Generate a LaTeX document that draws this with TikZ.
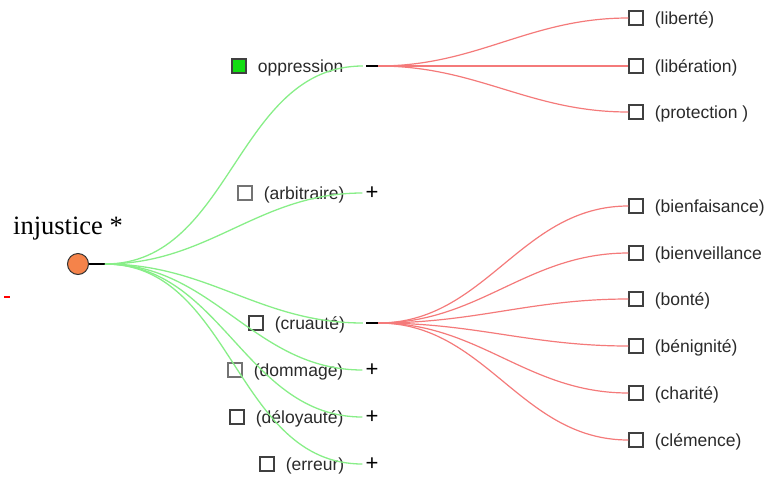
\documentclass[tikz,border=0pt]{standalone}
\usepackage{fontspec}
\setmainfont{Liberation Sans}
\newfontfamily\rootfont{Liberation Serif}
\usetikzlibrary{positioning}

\definecolor{branchgreen}{HTML}{88EE88}
\definecolor{branchred}{HTML}{F47A7A}
\definecolor{rootorange}{HTML}{F5834A}
\definecolor{boxgreen}{HTML}{11DD11}
\definecolor{labelgray}{HTML}{2A2A2A}

\tikzset{
    box/.style={draw=black!75, line width=1.3pt, fill=white,
        minimum size=14pt, inner sep=0pt},
    greybox/.style={box, draw=black!55},
    lbl/.style={font=\fontsize{17.5}{20}\selectfont, text=labelgray,
        inner sep=0pt, anchor=west, yshift=-1.5pt},
    dashmark/.style={fill=black, minimum width=12pt, minimum height=2pt,
        inner sep=0pt},
    plusmark/.style={font=\fontsize{22}{24}\selectfont, inner sep=0pt},
    green branch/.style={draw=branchgreen, line width=1.3pt},
    red branch/.style={draw=branchred, line width=1.2pt}
}

\begin{document}
\begin{tikzpicture}[x=1pt,y=-1pt]

\useasboundingbox (0,0) rectangle (765,477);
\clip (0,0) rectangle (765,477);

% root
\node[circle, draw=black!80, line width=1pt, fill=rootorange,
    minimum size=21pt, inner sep=0pt] (root) at (78,264) {};
\node[font=\rootfont\fontsize{26.5}{28}\selectfont, inner sep=0pt] (rootlbl) at (68,229) {injustice *};
\coordinate (stub) at (105,264);
\draw[line width=1.5pt] (root.east) -- (stub);
\node[fill=red, minimum width=6pt, minimum height=2pt, inner sep=0pt] (reddash) at (7,297) {};

% first level
\node[box, fill=boxgreen] (b-opp) at (239,66) {};
\node[lbl, right=11pt of b-opp] (opp) {oppression};
\node[dashmark] (t-opp) at (372,66) {};

\node[greybox] (b-arb) at (245,193) {};
\node[lbl, right=11pt of b-arb] (arb) {(arbitraire)};
\node[plusmark] (t-arb) at (372,193) {+};

\node[box] (b-cru) at (256,323) {};
\node[lbl, right=11pt of b-cru] (cru) {(cruauté)};
\node[dashmark] (t-cru) at (372,323) {};

\node[greybox] (b-dom) at (235,370) {};
\node[lbl, right=11pt of b-dom] (dom) {(dommage)};
\node[plusmark] (t-dom) at (372,370) {+};

\node[box] (b-del) at (237,417) {};
\node[lbl, right=11pt of b-del] (del) {(déloyauté)};
\node[plusmark] (t-del) at (372,417) {+};

\node[box] (b-err) at (267,464) {};
\node[lbl, right=11pt of b-err] (err) {(erreur)};
\node[plusmark] (t-err) at (372,464) {+};

\foreach \t in {t-opp,t-arb,t-cru,t-dom,t-del,t-err}
    \draw[green branch] (stub) to[out=0,in=180] ([xshift=-3pt]\t.west);

% second level under oppression
\foreach \n/\y/\txt in {lib/18/(liberté), libe/66/(libération), prot/112/(protection )}{
    \node[box] (b-\n) at (636,\y) {};
    \node[lbl, right=11pt of b-\n] (\n) {\txt};
    \draw[red branch] (t-opp.east) to[out=0,in=180] (b-\n.west);
}

% second level under cruaute
\foreach \n/\y/\txt in {bienf/206/(bienfaisance), bienv/253/(bienveillance,
        bont/299/(bonté), beni/346/(bénignité), char/393/(charité),
        clem/440/(clémence)}{
    \node[box] (b-\n) at (636,\y) {};
    \node[lbl, right=11pt of b-\n] (\n) {\txt};
    \draw[red branch] (t-cru.east) to[out=0,in=180] (b-\n.west);
}

\end{tikzpicture}
\end{document}
